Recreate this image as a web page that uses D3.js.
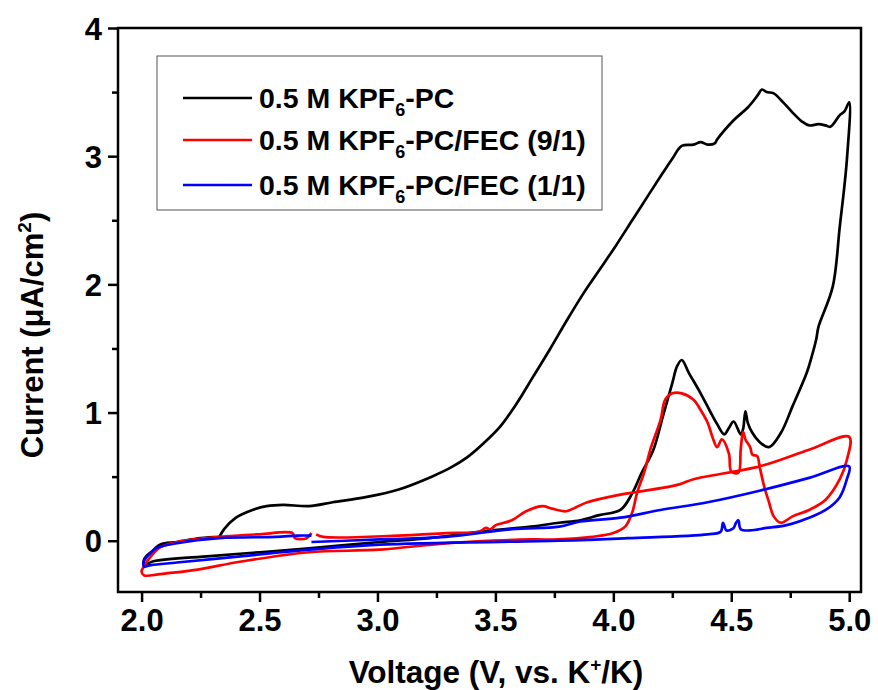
<!DOCTYPE html>
<html>
<head>
<meta charset="utf-8">
<script src="https://cdn.jsdelivr.net/npm/d3@7"></script>
<style>
  body { margin: 0; background: #fff; }
  svg text { font-family: "Liberation Sans", Arial, sans-serif; font-weight: bold; }
</style>
</head>
<body>
<svg id="chart" width="878" height="690"></svg>
<script>
// CV loops: [voltage (V), current (uA/cm2)] in scan order
const pcLoop = [
  [2.33, 0.03], [2.35, 0.09], [2.40, 0.18], [2.47, 0.24], [2.53, 0.27], [2.60, 0.28],
  [2.71, 0.27], [2.81, 0.30], [2.95, 0.34], [3.09, 0.40], [3.23, 0.50], [3.31, 0.57],
  [3.38, 0.65], [3.45, 0.76], [3.52, 0.89], [3.59, 1.07], [3.66, 1.28], [3.73, 1.49],
  [3.80, 1.71], [3.87, 1.92], [3.94, 2.11], [4.01, 2.30], [4.08, 2.50], [4.15, 2.70],
  [4.21, 2.87], [4.25, 2.98], [4.29, 3.08], [4.34, 3.09], [4.37, 3.11], [4.40, 3.09],
  [4.43, 3.10], [4.44, 3.13], [4.51, 3.28], [4.57, 3.38], [4.61, 3.47], [4.63, 3.52],
  [4.65, 3.50], [4.68, 3.49], [4.72, 3.42], [4.76, 3.34], [4.80, 3.27], [4.83, 3.24],
  [4.87, 3.25], [4.90, 3.24], [4.92, 3.23], [4.96, 3.32], [4.98, 3.35], [5.00, 3.42],
  [4.99, 2.97], [4.96, 2.45], [4.93, 1.98], [4.87, 1.67], [4.86, 1.57], [4.84, 1.43],
  [4.82, 1.31], [4.76, 1.05], [4.71, 0.84], [4.66, 0.73], [4.62, 0.77], [4.59, 0.84],
  [4.57, 0.92], [4.56, 1.01], [4.55, 0.87], [4.54, 0.83], [4.51, 0.93], [4.49, 0.88],
  [4.47, 0.83], [4.44, 0.91], [4.41, 1.01], [4.37, 1.15], [4.32, 1.31], [4.29, 1.41],
  [4.27, 1.36], [4.25, 1.23], [4.21, 0.97], [4.17, 0.71], [4.12, 0.53], [4.08, 0.37],
  [4.03, 0.24], [3.94, 0.20], [3.86, 0.16], [3.77, 0.14], [3.65, 0.11], [3.43, 0.07],
  [3.22, 0.02], [3.01, -0.01], [2.71, -0.06], [2.50, -0.09], [2.29, -0.12], [2.05, -0.16],
  [2.01, -0.19], [2.01, -0.15], [2.02, -0.12], [2.04, -0.09], [2.08, -0.03], [2.15, -0.01],
  [2.25, 0.02], [2.33, 0.03]
];

const fec91Loop = [
  [2.74, 0.05], [2.77, 0.03], [3.09, 0.04], [3.29, 0.06], [3.43, 0.07], [3.46, 0.10],
  [3.48, 0.09], [3.50, 0.12], [3.57, 0.16], [3.63, 0.23], [3.70, 0.27], [3.74, 0.25],
  [3.80, 0.23], [3.84, 0.26], [3.89, 0.30], [4.03, 0.36], [4.10, 0.38], [4.28, 0.44],
  [4.34, 0.48], [4.62, 0.58], [4.83, 0.71], [5.00, 0.81],
  [4.99, 0.63], [4.96, 0.48], [4.90, 0.32], [4.83, 0.24], [4.76, 0.19], [4.71, 0.14],
  [4.68, 0.19], [4.66, 0.30], [4.64, 0.42], [4.62, 0.58], [4.61, 0.66], [4.59, 0.67],
  [4.58, 0.73], [4.56, 0.79], [4.55, 0.85], [4.54, 0.71], [4.53, 0.53], [4.50, 0.54],
  [4.49, 0.68], [4.46, 0.79], [4.44, 0.73], [4.42, 0.81], [4.40, 0.92], [4.37, 1.02],
  [4.34, 1.10], [4.29, 1.15], [4.25, 1.15], [4.22, 1.10], [4.20, 0.94], [4.16, 0.73],
  [4.13, 0.53], [4.10, 0.37], [4.08, 0.22], [4.05, 0.11], [4.00, 0.06], [3.91, 0.03],
  [3.77, 0.01], [3.65, 0.01], [3.29, -0.02], [3.01, -0.07], [2.71, -0.09], [2.43, -0.16],
  [2.22, -0.23], [2.08, -0.26], [2.01, -0.27], [2.00, -0.24], [2.01, -0.20], [2.04, -0.12],
  [2.08, -0.05], [2.15, -0.01], [2.33, 0.03], [2.50, 0.05], [2.64, 0.06], [2.65, 0.02],
  [2.70, 0.02], [2.72, 0.06]
];

const fec11Loop = [
  [2.72, -0.01], [3.01, 0.01], [3.29, 0.03], [3.57, 0.09], [3.77, 0.11], [3.86, 0.15],
  [4.03, 0.18], [4.20, 0.24], [4.40, 0.30], [4.62, 0.39], [4.83, 0.49], [5.00, 0.58],
  [4.99, 0.48], [4.96, 0.34], [4.90, 0.24], [4.83, 0.18], [4.73, 0.12], [4.65, 0.10],
  [4.58, 0.08], [4.54, 0.09], [4.53, 0.16], [4.52, 0.14], [4.51, 0.10], [4.48, 0.08],
  [4.465, 0.14], [4.455, 0.07], [4.40, 0.05], [4.06, 0.02], [3.77, 0.00], [3.01, -0.03],
  [2.71, -0.07], [2.43, -0.12], [2.15, -0.17], [2.04, -0.19], [2.01, -0.20], [2.01, -0.16],
  [2.03, -0.11], [2.06, -0.06], [2.15, -0.02], [2.33, 0.02], [2.57, 0.03], [2.66, 0.04],
  [2.72, 0.04]
];

const seriesNames = ["0.5 M KPF", "0.5 M KPF", "0.5 M KPF"];
const seriesTails = ["-PC", "-PC/FEC (9/1)", "-PC/FEC (1/1)"];
const seriesColors = ["#000000", "#ff0000", "#0000ff"];

const xTicks = [2.0, 2.5, 3.0, 3.5, 4.0, 4.5, 5.0];
const xMinor = [2.25, 2.75, 3.25, 3.75, 4.25, 4.75];
const yTicks = [0, 1, 2, 3, 4];
const yMinor = [0.5, 1.5, 2.5, 3.5];

const svg = d3.select("#chart");
const plotLeft = 118, plotRight = 861, plotTop = 28, plotBottom = 592;

const x = d3.scaleLinear().domain([1.9, 5.05]).range([plotLeft, plotRight]);
const y = d3.scaleLinear().domain([-0.4, 4]).range([plotBottom, plotTop]);

// major + minor ticks, outward
const xAxis = svg.append("g").attr("transform", `translate(0,${plotBottom})`)
  .call(d3.axisBottom(x).tickValues(xTicks).tickFormat(d3.format(".1f")).tickSize(10).tickPadding(7));
svg.append("g").attr("transform", `translate(0,${plotBottom})`)
  .call(d3.axisBottom(x).tickValues(xMinor).tickFormat("").tickSize(6));
const yAxis = svg.append("g").attr("transform", `translate(${plotLeft},0)`)
  .call(d3.axisLeft(y).tickValues(yTicks).tickFormat(d3.format("d")).tickSize(10).tickPadding(6));
svg.append("g").attr("transform", `translate(${plotLeft},0)`)
  .call(d3.axisLeft(y).tickValues(yMinor).tickFormat("").tickSize(6));

svg.selectAll(".domain").remove();
svg.selectAll(".tick line").attr("stroke", "#000").attr("stroke-width", 2.5);
xAxis.selectAll("text").attr("font-size", 31).attr("fill", "#000").attr("font-weight", "bold");
yAxis.selectAll("text").attr("font-size", 31).attr("fill", "#000").attr("font-weight", "bold").attr("dy", "0.36em");

// data lines (centripetal catmull-rom keeps the spikes without overshoot)
const line = d3.line().x(d => x(d[0])).y(d => y(d[1])).curve(d3.curveCatmullRom.alpha(0.5));
const loops = [pcLoop, fec91Loop, fec11Loop];
svg.append("g").selectAll("path")
  .data(loops)
  .join("path")
  .attr("d", line)
  .attr("fill", "none")
  .attr("stroke", (d, i) => seriesColors[i])
  .attr("stroke-width", 2.7)
  .attr("stroke-linejoin", "round");

// frame
svg.append("rect")
  .attr("x", plotLeft).attr("y", plotTop)
  .attr("width", plotRight - plotLeft).attr("height", plotBottom - plotTop)
  .attr("fill", "none").attr("stroke", "#000").attr("stroke-width", 2.5);

// legend
const legend = svg.append("g");
legend.append("rect")
  .attr("x", 157).attr("y", 56).attr("width", 445).attr("height", 154)
  .attr("fill", "#fff").attr("stroke", "#555").attr("stroke-width", 1);
const rowY = [98, 140, 185];
seriesColors.forEach((c, i) => {
  legend.append("line")
    .attr("x1", 183).attr("x2", 252).attr("y1", rowY[i]).attr("y2", rowY[i])
    .attr("stroke", c).attr("stroke-width", 2.7);
  const t = legend.append("text")
    .attr("x", 259).attr("y", rowY[i] + 10)
    .attr("font-size", 28.5).attr("fill", "#000");
  t.append("tspan").text(seriesNames[i]);
  t.append("tspan").attr("font-size", 18).attr("dy", 8).text("6");
  t.append("tspan").attr("dy", -8).text(seriesTails[i]);
});

// axis titles
const xt = svg.append("text")
  .attr("x", 496).attr("y", 683)
  .attr("text-anchor", "middle").attr("font-size", 31.5).attr("fill", "#000");
xt.append("tspan").text("Voltage (V, vs. K");
xt.append("tspan").attr("font-size", 19).attr("dy", -12).text("+");
xt.append("tspan").attr("dy", 12).text("/K)");

const yt = svg.append("text")
  .attr("transform", "translate(43,335) rotate(-90)")
  .attr("text-anchor", "middle").attr("font-size", 31).attr("fill", "#000");
yt.append("tspan").text("Current (\u03bcA/cm");
yt.append("tspan").attr("font-size", 19).attr("dy", -12).text("2");
yt.append("tspan").attr("dy", 12).text(")");
</script>
</body>
</html>
